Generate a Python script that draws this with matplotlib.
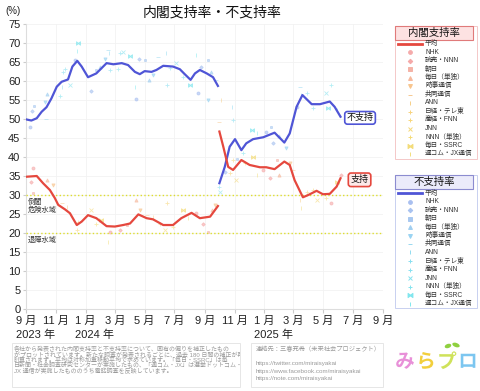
import matplotlib
matplotlib.use("Agg")
import matplotlib.pyplot as plt
import matplotlib.dates as mdates
from matplotlib.lines import Line2D
from matplotlib.patches import Rectangle, Ellipse
import matplotlib.patheffects as pe
import pandas as pd

plt.rcParams['font.family'] = ['Liberation Sans', 'Noto Sans CJK JP']

# --- averages ---
kishida_dates = ['2023-09-01', '2023-09-23', '2023-10-06', '2023-10-20', '2023-10-30', '2023-11-06',
                 '2023-11-20', '2023-11-30', '2023-12-14', '2023-12-24', '2024-01-06', '2024-01-23',
                 '2024-02-13', '2024-03-01', '2024-03-18', '2024-04-01', '2024-04-18', '2024-05-05',
                 '2024-05-18', '2024-06-08', '2024-06-28', '2024-07-15', '2024-08-05', '2024-08-22',
                 '2024-09-12', '2024-09-28']
kishida_support = [34.8, 35.0, 33.1, 31.3, 29.2, 27.4, 26.2, 25.2, 22.1, 23.0, 24.7, 23.9,
                   21.8, 21.7, 22.1, 22.5, 24.9, 23.9, 23.6, 22.1, 22.1, 23.9, 25.3, 23.9,
                   24.3, 27.1]
kishida_oppose_dates = ['2023-09-01', '2023-09-12', '2023-09-23', '2023-10-03', '2023-10-13', '2023-10-23',
                        '2023-11-03', '2023-11-13', '2023-11-26', '2023-12-05', '2023-12-15', '2023-12-24',
                        '2024-01-06', '2024-01-23', '2024-02-13', '2024-02-27', '2024-03-15', '2024-03-28',
                        '2024-04-11', '2024-04-21', '2024-05-01', '2024-05-15', '2024-05-25', '2024-06-08',
                        '2024-06-28', '2024-07-12', '2024-07-22', '2024-08-03', '2024-08-12', '2024-08-22',
                        '2024-09-05', '2024-09-18', '2024-09-28']
kishida_oppose = [49.9, 49.6, 50.2, 51.9, 53.1, 55.4, 58.5, 59.8, 60.4, 63.8, 65.3, 63.8,
                  61.0, 62.0, 64.7, 64.4, 64.7, 64.2, 62.4, 61.8, 62.6, 62.4, 62.9, 64.0,
                  63.8, 63.1, 61.8, 60.3, 62.0, 62.9, 62.0, 61.0, 58.7]

ishiba_support_dates = ['2024-10-01', '2024-10-09', '2024-10-19', '2024-10-29', '2024-11-15', '2024-12-02',
                        '2024-12-23', '2025-01-05', '2025-01-22', '2025-02-11', '2025-02-22', '2025-03-04',
                        '2025-03-21', '2025-04-01', '2025-04-18', '2025-05-01', '2025-05-15', '2025-05-29',
                        '2025-06-06']
ishiba_support = [46.7, 42.7, 37.4, 36.6, 39.2, 37.9, 37.3, 37.3, 36.8, 38.8, 37.9, 33.9,
                  29.4, 30.0, 31.1, 30.2, 30.3, 32.2, 34.4]
ishiba_oppose_dates = ['2024-10-01', '2024-10-12', '2024-10-22', '2024-11-02', '2024-11-15', '2024-11-25',
                       '2024-12-09', '2024-12-30', '2025-01-22', '2025-02-11', '2025-02-22', '2025-03-08',
                       '2025-03-20', '2025-04-08', '2025-04-25', '2025-05-15', '2025-05-25', '2025-06-06']
ishiba_oppose = [33.1, 37.4, 42.7, 44.7, 41.8, 43.6, 44.7, 45.2, 46.4, 43.8, 46.2, 53.2,
                 56.3, 53.9, 53.9, 54.6, 53.2, 50.6]

# --- individual polls (approximate) ---
poll_support_dates = ['2023-09-16', '2023-09-12', '2023-09-16', '2023-10-13', '2023-10-26', '2023-11-13',
                      '2023-11-23', '2023-12-17', '2023-12-14', '2024-01-13', '2024-01-23', '2024-02-02',
                      '2024-02-16', '2024-02-20', '2024-03-11', '2024-03-25', '2024-04-14', '2024-04-21',
                      '2024-05-05', '2024-05-18', '2024-06-01', '2024-06-15', '2024-06-11', '2024-06-28',
                      '2024-07-19', '2024-07-29', '2024-08-15', '2024-08-29', '2024-09-08', '2024-09-15',
                      '2024-09-22',
                      '2024-10-01', '2024-10-05', '2024-10-23', '2024-10-29', '2024-11-05', '2024-11-22',
                      '2024-12-09', '2024-12-16', '2024-12-30', '2025-01-12', '2025-01-26', '2025-02-01',
                      '2025-02-22', '2025-03-01', '2025-03-15', '2025-03-29', '2025-04-11', '2025-04-18',
                      '2025-05-08', '2025-05-29', '2025-03-18', '2025-05-18', '2025-06-08']
poll_support = [37.0, 33.5, 30.6, 34.0, 32.6, 28.0, 26.9, 23.0, 20.8, 26.1, 22.5, 23.4,
                17.7, 20.3, 20.8, 22.1, 28.7, 26.1, 24.7, 24.3, 22.5, 27.8, 20.8, 21.7,
                26.1, 23.9, 25.2, 22.5, 20.3, 26.1, 27.4,
                49.3, 55.0, 35.7, 39.2, 33.9, 38.3, 40.1, 35.3, 36.6, 34.4, 39.2, 35.3,
                38.3, 36.6, 28.7, 30.9, 31.3, 28.7, 29.1, 33.5, 26.5, 27.8, 35.3]

poll_oppose_dates = ['2023-09-09', '2023-09-14', '2023-09-17', '2023-10-13', '2023-10-10', '2023-10-12',
                     '2023-11-13', '2023-11-15', '2023-11-20', '2023-11-30', '2023-11-09', '2023-12-17',
                     '2023-12-15', '2023-12-10', '2024-01-13', '2024-01-23', '2024-01-30', '2024-02-09',
                     '2024-02-16', '2024-02-18', '2024-02-21', '2024-03-11', '2024-03-18', '2024-03-08',
                     '2024-04-01', '2024-04-11', '2024-04-14', '2024-04-20', '2024-05-01', '2024-05-10',
                     '2024-05-18', '2024-05-29', '2024-06-13', '2024-06-16', '2024-06-22', '2024-07-05',
                     '2024-07-19', '2024-08-01', '2024-08-15', '2024-08-18', '2024-08-25', '2024-09-08',
                     '2024-09-13', '2024-09-08', '2024-09-25',
                     '2024-10-26', '2024-10-29', '2024-10-01', '2024-10-02', '2024-11-19', '2024-12-06',
                     '2024-12-16', '2025-01-05', '2025-01-18', '2025-01-15', '2025-02-01', '2025-02-15',
                     '2025-03-15', '2025-03-18', '2025-03-29', '2025-04-11', '2025-05-08', '2025-05-18',
                     '2025-05-11', '2025-05-29', '2025-03-08', '2024-10-12', '2024-11-07']
poll_oppose = [47.9, 52.2, 53.4, 56.6, 54.6, 50.0, 58.5, 62.4, 63.1, 58.9, 56.0, 70.1,
               68.0, 65.5, 57.4, 62.9, 63.6, 65.7, 68.2, 67.3, 62.9, 67.3, 67.7, 63.1,
               66.6, 58.5, 55.2, 65.7, 65.5, 60.3, 61.6, 66.4, 67.3, 58.9, 63.3, 64.7,
               61.1, 58.9, 66.8, 56.9, 63.8, 65.5, 62.4, 55.0, 60.3,
               53.2, 49.7, 32.2, 30.9, 41.0, 47.1, 46.2, 46.7, 43.6, 48.0, 45.4, 42.3,
               58.5, 56.3, 56.8, 52.8, 56.8, 58.9, 52.8, 52.4, 53.2, 36.0, 39.5]

pollsters = ['NHK', '読売・NNN', '朝日', '毎日（単独）', '時事通信', '共同通信', 'ANN',
             '日経・テレ東', '産経・FNN', 'JNN', 'NNN（単独）', '毎日・SSRC', '週コム・JX通信']
markers = ['o', 'D', 's', '^', 'v', '_', '|', '+', '+', 'x', '+', r'$\bowtie$', r'$\mathrm{I}$']
marker_sizes = [2.2, 1.8, 2.0, 2.3, 2.3, 3.0, 3.0, 3.0, 3.0, 2.5, 3.0, 3.0, 3.0]
support_colors = ['#f5aaaa', '#f5a8a8', '#f4b2a6', '#f6b89c', '#f8c48c', '#f6c890', '#f6cf88',
                  '#f7d37e', '#f7d67a', '#f5d97a', '#f5dc78', '#f3dc7a', '#f2de7c']
oppose_colors = ['#a8bff0', '#a8c2f0', '#a8c8f0', '#a0cef0', '#98d3f2', '#98d8f0', '#90dbf0',
                 '#88def0', '#88e0f0', '#86e2ef', '#84e4ee', '#82e6ee', '#80e8ee']

red = '#e5483e'
blue = '#4f55d6'

fig = plt.figure(figsize=(4.8, 3.91), dpi=100)
W, H = 480.0, 391.0


def fx(x):
    return x / W


def fy(y):
    return 1 - y / H


ax = fig.add_axes([fx(26), fy(309), 357 / W, 285 / H])

sd = pd.to_datetime(poll_support_dates)
od = pd.to_datetime(poll_oppose_dates)
for k in range(13):
    ax.plot(od[k::13], poll_oppose[k::13], ls='none', marker=markers[k], ms=marker_sizes[k],
            color=oppose_colors[k], mew=0.6, alpha=0.6, zorder=2)
    ax.plot(sd[k::13], poll_support[k::13], ls='none', marker=markers[k], ms=marker_sizes[k],
            color=support_colors[k], mew=0.6, alpha=0.6, zorder=2)

ax.plot(pd.to_datetime(kishida_oppose_dates), kishida_oppose, color=blue, lw=1.6, zorder=4)
ax.plot(pd.to_datetime(kishida_dates), kishida_support, color=red, lw=1.6, zorder=4)
ax.plot(pd.to_datetime(ishiba_oppose_dates), ishiba_oppose, color=blue, lw=1.6, zorder=4)
ax.plot(pd.to_datetime(ishiba_support_dates), ishiba_support, color=red, lw=1.6, zorder=4)

ax.axhline(30, color='#dede30', lw=1.0, ls=':', zorder=3)
ax.axhline(20, color='#dede30', lw=1.0, ls=':', zorder=3)
ax.text(0.006, 28.9, '倒閣\n危険水域', transform=ax.get_yaxis_transform(), fontsize=5.2,
        va='top', ha='left', color='#333333', linespacing=1.0)
ax.text(0.006, 18.9, '退陣水域', transform=ax.get_yaxis_transform(), fontsize=5.2,
        va='top', ha='left', color='#333333')

ax.text(pd.Timestamp('2025-07-16'), 50.3, '不支持', fontsize=6.5, ha='center', va='center',
        color='#111111', zorder=6,
        bbox=dict(boxstyle='round,pad=0.2,rounding_size=0.3', fc='white', ec=blue, lw=1.2))
ax.text(pd.Timestamp('2025-07-15'), 34.0, '支持', fontsize=6.5, ha='center', va='center',
        color='#111111', zorder=6,
        bbox=dict(boxstyle='round,pad=0.25,rounding_size=0.3', fc='#fde9e9', ec=red, lw=1.2))

ax.set_xlim(pd.Timestamp('2023-09-01'), pd.Timestamp('2025-09-01'))
ax.set_ylim(0, 75)
ax.set_yticks(range(0, 76, 5))
ax.xaxis.set_major_locator(mdates.MonthLocator(bymonth=[1, 3, 5, 7, 9, 11]))
ax.xaxis.set_major_formatter(mdates.DateFormatter('%-m 月'))
ax.tick_params(axis='both', labelsize=8, colors='#cccccc', labelcolor='#222222')
ax.tick_params(axis='x', length=3, pad=2)
ax.tick_params(axis='y', length=2, pad=2)
ax.grid(True, color='#f2f2f2', lw=0.6)
for s in ['top', 'right']:
    ax.spines[s].set_visible(False)
for s in ['left', 'bottom']:
    ax.spines[s].set_color('#dddddd')

years = [('2023-09-01', '2023 年'), ('2024-01-01', '2024 年'), ('2025-01-01', '2025 年')]
for d, t in years:
    ax.annotate(t, xy=(pd.Timestamp(d), 0), xycoords=('data', 'axes fraction'),
                xytext=(-7.5, -18.5), textcoords='offset points', fontsize=8,
                ha='left', va='center', color='#222222')

fig.text(fx(212), fy(13), '内閣支持率・不支持率', fontsize=10, ha='center', va='center', color='#111111')
fig.text(fx(5), fy(11), '(%)', fontsize=7, ha='left', va='center', color='#222222')


def draw_legend(title, title_top, first_y, box_bottom, title_fc, title_ec, box_ec, line_color, colors):
    fig.add_artist(Rectangle((fx(395), fy(box_bottom)), 82 / W, (box_bottom - title_top) / H,
                             transform=fig.transFigure, fc='white', ec=box_ec, lw=0.7))
    fig.add_artist(Rectangle((fx(395), fy(title_top + 14)), 78 / W, 14 / H,
                             transform=fig.transFigure, fc=title_fc, ec=title_ec, lw=0.8))
    fig.text(fx(434), fy(title_top + 7), title, fontsize=7.5, ha='center', va='center', color='#111111')
    labels = ['平均'] + pollsters
    for i, lab in enumerate(labels):
        y = first_y + i * 8.5
        if i == 0:
            fig.add_artist(Line2D([fx(398), fx(422)], [fy(y), fy(y)], color=line_color, lw=2,
                                  transform=fig.transFigure))
        else:
            k = i - 1
            fig.add_artist(Line2D([fx(410)], [fy(y)], ls='none', marker=markers[k],
                                  ms=marker_sizes[k] + 0.5, color=colors[k], mew=0.7,
                                  transform=fig.transFigure))
        fig.text(fx(425), fy(y), lab, fontsize=4.8, ha='left', va='center', color='#333333')


draw_legend('内閣支持率', 26, 43.5, 159, '#fde2e2', '#e07a7a', '#f4c8c8', red, support_colors)
draw_legend('不支持率', 175, 193, 308, '#ebebfa', '#8c8cd0', '#c8d0f0', blue, oppose_colors)

# bottom notes
note_box = Rectangle((fx(12), fy(387)), 228 / W, 44 / H, transform=fig.transFigure,
                     fc='white', ec='#e6e6e6', lw=0.7)
fig.add_artist(note_box)
notes = ['各社から発表された内閣支持率と不支持率について、固有の偏りを補正したもの',
         'がプロットされています。新たな調査が発表されるごとに、過去 180 日間の補正が再',
         '計算されます。平均は対称加重移動平均で求めています。「毎日・SSRC」は毎',
         '日新聞・社会調査研究センターが実施したもの、「週コム・JX」は選挙ドットコム・',
         'JX 通信が実施したもののうち電話調査を反映しています。']
for i, line in enumerate(notes):
    t = fig.text(fx(14), fy(349.5 + i * 5.4), line, fontsize=4.3, ha='left', va='center', color='#9a9a9a')
    t.set_clip_path(note_box)

fig.add_artist(Rectangle((fx(251), fy(387)), 132 / W, 44 / H, transform=fig.transFigure,
                         fc='white', ec='#e6e6e6', lw=0.7))
contact = [(349, '連絡先：三春充希（未来社会プロジェクト）'),
           (364, 'https://twitter.com/miraisyakai'),
           (371.3, 'https://www.facebook.com/miraisyakai'),
           (378.7, 'https://note.com/miraisyakai')]
for y, line in contact:
    fig.text(fx(256), fy(y), line, fontsize=4.5, ha='left', va='center', color='#9a9a9a')

# logo
logo = [('み', '#e890d8', 405), ('ら', '#f2cf3c', 426), ('プ', '#cfe25a', 447), ('ロ', '#7cc6f0', 468)]
for ch, c, x in logo:
    fig.text(fx(x), fy(363), ch, fontsize=14, fontweight='bold', ha='center', va='center', color=c,
             path_effects=[pe.withStroke(linewidth=1.5, foreground='#ffffff')])
fig.add_artist(Ellipse((fx(448), fy(346)), 7 / W, 4 / H, angle=30, transform=fig.transFigure,
                       fc='#8fd040', ec='none'))
fig.add_artist(Ellipse((fx(456), fy(345)), 8 / W, 4 / H, angle=-30, transform=fig.transFigure,
                       fc='#8fd040', ec='none'))

fig.savefig('out.png', dpi=100)
